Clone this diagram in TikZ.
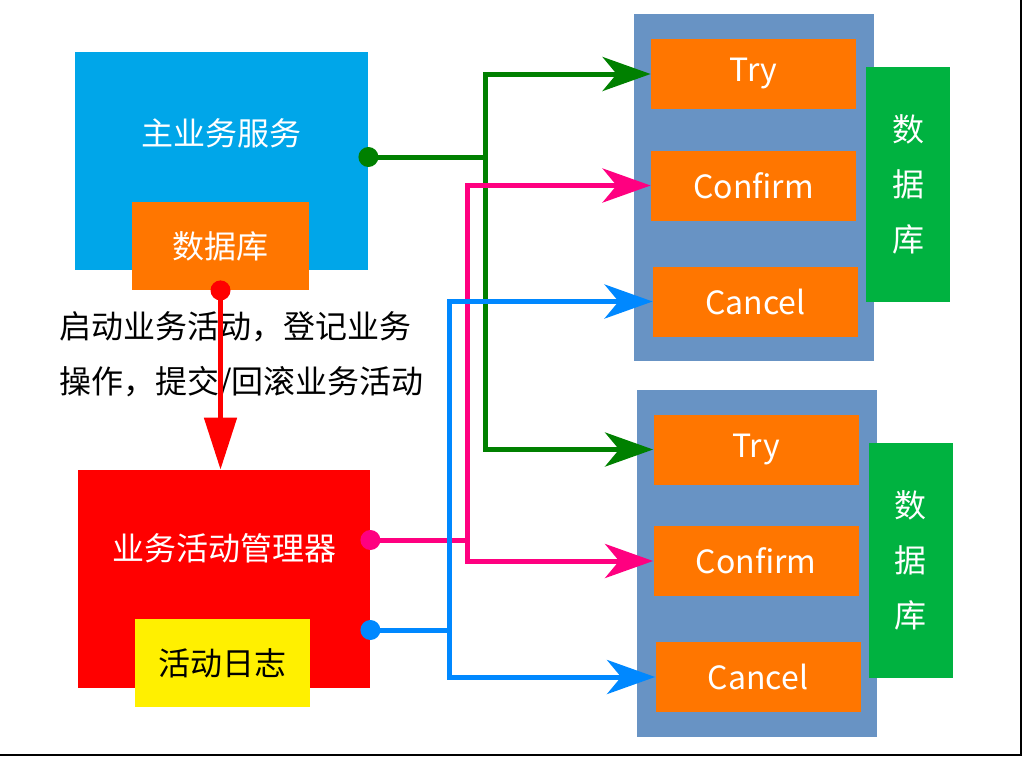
\documentclass[tikz,border=0pt]{standalone}
\usepackage{fontspec}
\setmainfont{Noto Sans CJK SC}
\usetikzlibrary{arrows.meta,positioning}

\definecolor{svcblue}{RGB}{0,166,233}
\definecolor{dborange}{RGB}{255,118,0}
\definecolor{tccblue}{RGB}{104,147,196}
\definecolor{dbgreen}{RGB}{0,178,64}
\definecolor{linegreen}{RGB}{0,128,0}
\definecolor{linepink}{RGB}{255,0,128}
\definecolor{lineblue}{RGB}{0,136,255}
\definecolor{logyellow}{RGB}{255,240,0}

\begin{document}
\begin{tikzpicture}[x=0.5pt,y=-0.5pt,
  block/.style={inner sep=0pt, text=white, font=\fontsize{16}{27.5}\selectfont, align=center},
  opbox/.style={block, fill=dborange, minimum width=102.5pt, minimum height=35pt},
  link/.style={line width=2.5pt, line join=miter},
  tip/.style={-{Stealth[length=24pt,width=17pt,inset=7pt]}}]
  \useasboundingbox (0,0) rectangle (1022,756);

  % left side
  \node[block, fill=svcblue, minimum width=146.5pt, minimum height=109pt,
        label={[block, yshift=14pt]center:主业务服务}] (main) at (221.5,161) {};
  \node[opbox, minimum width=88.5pt, minimum height=44pt] (db) at (220.5,246) {数据库};
  \node[block, fill=red, minimum width=146pt, minimum height=109pt,
        label={[block, yshift=15.5pt]center:业务活动管理器}] (mgr) at (224,579) {};
  \node[block, fill=logyellow, text=black, minimum width=87.5pt, minimum height=44pt] (log) at (222.5,663) {活动日志};

  % right side, two participants
  \foreach \i/\dx/\dy in {1/0/0, 2/2.5/375.5} {
    \begin{scope}[shift={(\dx,\dy)}]
      \node[fill=tccblue, minimum width=120pt, minimum height=173.5pt] (tcc\i) at (754,187.5) {};
      \node[opbox] (try\i)  at (753.5,74)    {Try};
      \node[opbox] (conf\i) at (753.5,185.5) {Confirm};
      \node[opbox] (canc\i) at (755.5,301.5) {Cancel};
      \node[block, fill=dbgreen, minimum width=42pt, minimum height=117.5pt] (rdb\i) at (908,184.5) {数\\据\\库};
    \end{scope}
  }

  \node[font=\fontsize{16}{27.5}\selectfont, align=left, anchor=west] (note) at (52,355)
    {启动业务活动，登记业务\\操作，提交/回滚业务活动};

  % branch points
  \coordinate (gx) at (485,157);
  \coordinate (px) at (467,540);
  \coordinate (bx) at (449,630);
  \coordinate (pdot) at ([yshift=19.5pt]mgr.east);
  \coordinate (bdot) at ([yshift=-25.5pt]mgr.east);

  \draw[link, red, -{Triangle[length=26pt,width=16pt]}] (db.south) -- (db.south |- mgr.north);
  \fill[red] (db.south) circle (5pt);

  \draw[link, linegreen] (main.east |- gx) -- (gx);
  \fill[linegreen] (main.east |- gx) circle (5pt);
  \draw[link, linegreen, tip] (gx) |- (try1.west);
  \draw[link, linegreen, tip] (gx) |- (try2.west);

  \draw[link, linepink] (pdot) -- (px);
  \fill[linepink] (pdot) circle (5pt);
  \draw[link, linepink, tip] (px) |- (conf1.west);
  \draw[link, linepink, tip] (px) |- (conf2.west);

  \draw[link, lineblue] (bdot) -- (bx);
  \fill[lineblue] (bdot) circle (5pt);
  \draw[link, lineblue, tip] (bx) |- (canc1.west);
  \draw[link, lineblue, tip] (bx) |- (canc2.west);

  \draw[line width=1pt] (0,755) -- (1021,755) -- (1021,0);
\end{tikzpicture}
\end{document}
